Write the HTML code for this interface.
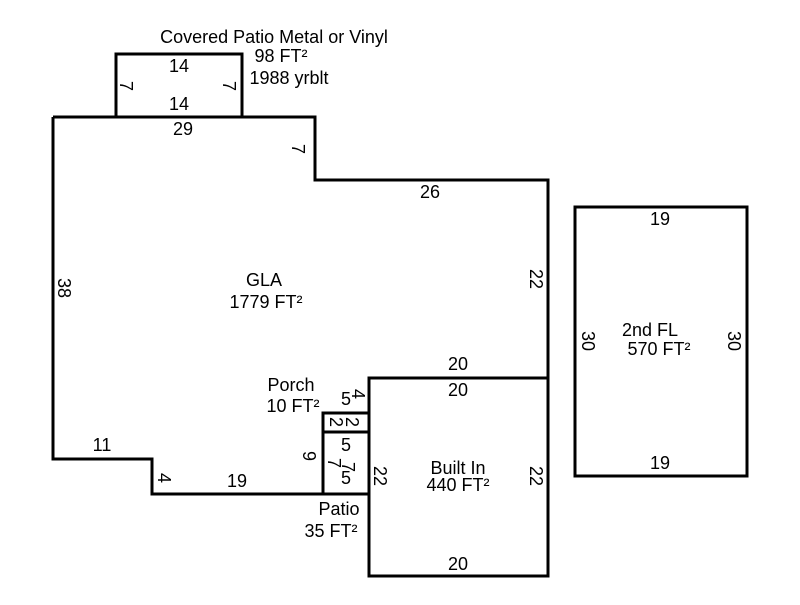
<!DOCTYPE html>
<html><head><style>body{margin:0;background:#fff}</style></head><body>
<svg width="800" height="600" xmlns="http://www.w3.org/2000/svg" font-family="Liberation Sans, sans-serif" font-size="18" fill="#000">
<g fill="none" stroke="#000" stroke-width="3">
<rect x="116" y="54" width="126" height="63"/>
<polyline points="53,117 315,117 315,180 548,180 548,378"/>
<polyline points="53,117 53,459 152,459 152,494 369,494"/>
<rect x="369" y="378" width="179" height="198"/>
<rect x="323" y="413" width="46" height="19"/>
<rect x="323" y="432" width="46" height="62"/>
<rect x="575" y="207" width="172" height="269"/>
</g>
<g text-anchor="middle">
<text x="274" y="43">Covered Patio Metal or Vinyl</text>
<text x="281" y="62">98 FT²</text>
<text x="289" y="84">1988 yrblt</text>
<text x="179" y="72">14</text>
<text x="179" y="110">14</text>
<text x="183" y="135">29</text>
<text x="430" y="198">26</text>
<text x="264" y="286">GLA</text>
<text x="266" y="308">1779 FT²</text>
<text x="291" y="391">Porch</text>
<text x="293" y="412">10 FT²</text>
<text x="458" y="370">20</text>
<text x="458" y="396">20</text>
<text x="102" y="451">11</text>
<text x="237" y="487">19</text>
<text x="339" y="515">Patio</text>
<text x="331" y="537">35 FT²</text>
<text x="458" y="474">Built In</text>
<text x="458" y="491">440 FT²</text>
<text x="458" y="570">20</text>
<text x="346" y="451">5</text>
<text x="346" y="484">5</text>
<text x="660" y="225">19</text>
<text x="650" y="336">2nd FL</text>
<text x="659" y="355">570 FT²</text>
<text x="660" y="469">19</text>
<text x="346" y="405">5</text>
</g>
<g text-anchor="middle">
<text transform="translate(120,86) rotate(90)">7</text>
<text transform="translate(223,86) rotate(90)">7</text>
<text transform="translate(292,149) rotate(90)">7</text>
<text transform="translate(58,288) rotate(90)">38</text>
<text transform="translate(530,279) rotate(90)">22</text>
<text transform="translate(352,394) rotate(90)">4</text>
<text transform="translate(330,422) rotate(90)">2</text>
<text transform="translate(346,422) rotate(90)">2</text>
<text transform="translate(303,456) rotate(90)">9</text>
<text transform="translate(328,463) rotate(90)">7</text>
<text transform="translate(342,467) rotate(90)">7</text>
<text transform="translate(158,478) rotate(90)">4</text>
<text transform="translate(374,476) rotate(90)">22</text>
<text transform="translate(530,476) rotate(90)">22</text>
<text transform="translate(582,341) rotate(90)">30</text>
<text transform="translate(728,341) rotate(90)">30</text>
</g>
</svg>
</body></html>
